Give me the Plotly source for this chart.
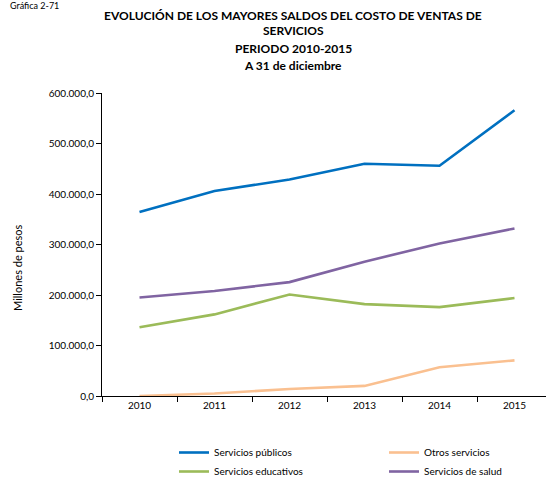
import plotly.graph_objects as go

years = ["2010", "2011", "2012", "2013", "2014", "2015"]
servicios_publicos = [364600, 406000, 428600, 460000, 456000, 565800]
otros_servicios = [0, 5000, 14000, 20000, 56800, 70600]
servicios_educativos = [136000, 161600, 201000, 182000, 176000, 194000]
servicios_salud = [195000, 208000, 225500, 266000, 302000, 331700]

# (name, values, colour, legend column)
series = [
    ("Servicios públicos", servicios_publicos, "#0070C0", "legend"),
    ("Otros servicios", otros_servicios, "#FAC090", "legend2"),
    ("Servicios educativos", servicios_educativos, "#9BBB59", "legend"),
    ("Servicios de salud", servicios_salud, "#8064A2", "legend2"),
]

xpos = list(range(len(years)))
fig = go.Figure()
for name, vals, color, leg in series:
    fig.add_trace(go.Scatter(
        x=xpos, y=vals, name=name, mode="lines",
        line=dict(color=color, width=2.6),
        cliponaxis=False, legend=leg,
    ))

font_family = "Lato, Carlito, Calibri, sans-serif"
W, H = 546, 478
ML, MR, MT, MB = 102, 0, 93, 82

legend_common = dict(
    orientation="v", xref="container", yref="container",
    xanchor="left", yanchor="top", itemwidth=30, tracegroupgap=0,
    font=dict(size=10, family=font_family, color="#000000"),
    bgcolor="rgba(0,0,0,0)", traceorder="normal",
)

fig.update_layout(
    width=W, height=H,
    margin=dict(l=ML, r=MR, t=MT, b=MB, autoexpand=False),
    paper_bgcolor="white", plot_bgcolor="white",
    separators=",.",
    font=dict(family=font_family, size=10, color="#000000"),
    showlegend=True,
    legend=dict(x=174 / W, y=1 - 438 / H, **legend_common),
    legend2=dict(x=384 / W, y=1 - 438 / H, **legend_common),
    xaxis=dict(
        range=[-0.5, 5.42], tickmode="array", tickvals=xpos, ticktext=years,
        showgrid=False, zeroline=False, showline=True, linecolor="#000000",
        linewidth=1, ticks="", tickfont=dict(size=10),
        minor=dict(tick0=-0.5, dtick=1, ticks="outside", ticklen=5,
                   tickcolor="#000000", showgrid=False),
    ),
    yaxis=dict(
        range=[0, 600000], tickvals=[0, 100000, 200000, 300000, 400000, 500000, 600000],
        tickformat=",.1f", showgrid=False, zeroline=False, showline=True,
        linecolor="#000000", linewidth=1, ticks="outside", ticklen=5,
        tickcolor="#000000", tickfont=dict(size=10),
    ),
)

# Header texts and axis title, positioned in pixels from the top-left corner
texts = [
    ("Gráfica 2-71", 8, 6, 9, False, "left", 0),
    ("EVOLUCIÓN DE LOS MAYORES SALDOS DEL COSTO DE VENTAS DE", 293, 15, 12, True, "center", 0),
    ("SERVICIOS", 293, 31, 12, True, "center", 0),
    ("PERIODO 2010-2015", 293, 48, 12, True, "center", 0),
    ("A 31 de diciembre", 293, 65, 12, True, "center", 0),
    ("Millones de pesos", 17, 268, 11, False, "center", -90),
]
for text, x, y, size, bold, anchor, angle in texts:
    fig.add_annotation(
        text=f"<b>{text}</b>" if bold else text,
        x=(x - ML) / (W - ML - MR), y=(H - MB - y) / (H - MT - MB),
        xref="paper", yref="paper", textangle=angle,
        showarrow=False, xanchor=anchor, yanchor="middle",
        font=dict(size=size, family=font_family, color="#000000"),
    )

fig.write_html("out.html")
